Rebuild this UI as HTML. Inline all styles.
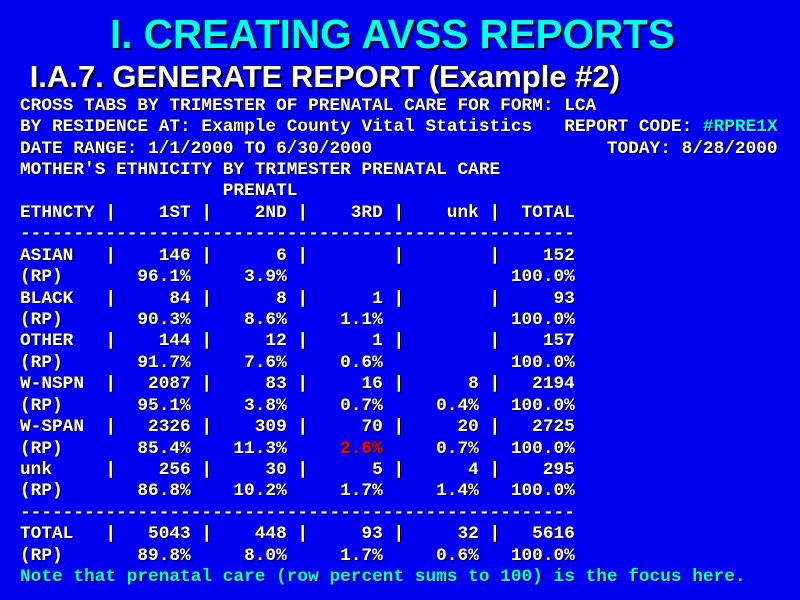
<!DOCTYPE html>
<html>
<head>
<meta charset="utf-8">
<style>
  html, body { margin:0; padding:0; }
  body { width:800px; height:600px; overflow:hidden; background:#0000f0; position:relative; }
  .t1 { position:absolute; left:110px; top:14.1px; font:bold 40.4px/40.4px "Liberation Sans", Arial, sans-serif; color:#00ffff; text-shadow:2px 2px 0 #000; white-space:pre; }
  .t2 { position:absolute; left:29.7px; top:61.1px; font:bold 31px/31px "Liberation Sans", Arial, sans-serif; color:#ffffff; text-shadow:2px 2px 0 #000; white-space:pre; }
  .mono { position:absolute; left:20px; top:95.8px; font-family:"Liberation Mono", "Courier New", monospace; font-weight:bold; font-size:17.8px; color:#fff; text-shadow:1px 1px 0 #000; }
  .mono > div { height:21.43px; line-height:21.43px; white-space:pre; }
  .nm { display:inline-block; width:8ch; }
  .v { display:inline-block; width:7ch; text-align:right; }
  .c { color:#00ffff; }
  .r { color:#ff0000; }
</style>
</head>
<body>
<div class="t1">I. CREATING AVSS REPORTS</div>
<div class="t2">I.A.7. GENERATE REPORT (Example #2)</div>
<div class="mono">
<div>CROSS TABS BY TRIMESTER OF PRENATAL CARE FOR FORM: LCA</div>
<div>BY RESIDENCE AT: Example County Vital Statistics   REPORT CODE: <span class="c">#RPRE1X</span></div>
<div>DATE RANGE: 1/1/2000 TO 6/30/2000                      TODAY: 8/28/2000</div>
<div>MOTHER'S ETHNICITY BY TRIMESTER PRENATAL CARE</div>
<div>                   PRENATL</div>
<div><span class="nm">ETHNCTY</span>|<span class="v">1ST</span> |<span class="v">2ND</span> |<span class="v">3RD</span> |<span class="v">unk</span> |<span class="v">TOTAL</span></div>
<div>----------------------------------------------------</div>
<div><span class="nm">ASIAN</span>|<span class="v">146</span> |<span class="v">6</span> |<span class="v"></span> |<span class="v"></span> |<span class="v">152</span></div>
<div><span class="nm">(RP)</span> <span class="v">96.1%</span>  <span class="v">3.9%</span>  <span class="v"></span>  <span class="v"></span>  <span class="v">100.0%</span></div>
<div><span class="nm">BLACK</span>|<span class="v">84</span> |<span class="v">8</span> |<span class="v">1</span> |<span class="v"></span> |<span class="v">93</span></div>
<div><span class="nm">(RP)</span> <span class="v">90.3%</span>  <span class="v">8.6%</span>  <span class="v">1.1%</span>  <span class="v"></span>  <span class="v">100.0%</span></div>
<div><span class="nm">OTHER</span>|<span class="v">144</span> |<span class="v">12</span> |<span class="v">1</span> |<span class="v"></span> |<span class="v">157</span></div>
<div><span class="nm">(RP)</span> <span class="v">91.7%</span>  <span class="v">7.6%</span>  <span class="v">0.6%</span>  <span class="v"></span>  <span class="v">100.0%</span></div>
<div><span class="nm">W-NSPN</span>|<span class="v">2087</span> |<span class="v">83</span> |<span class="v">16</span> |<span class="v">8</span> |<span class="v">2194</span></div>
<div><span class="nm">(RP)</span> <span class="v">95.1%</span>  <span class="v">3.8%</span>  <span class="v">0.7%</span>  <span class="v">0.4%</span>  <span class="v">100.0%</span></div>
<div><span class="nm">W-SPAN</span>|<span class="v">2326</span> |<span class="v">309</span> |<span class="v">70</span> |<span class="v">20</span> |<span class="v">2725</span></div>
<div><span class="nm">(RP)</span> <span class="v">85.4%</span>  <span class="v">11.3%</span>  <span class="v r">2.6%</span>  <span class="v">0.7%</span>  <span class="v">100.0%</span></div>
<div><span class="nm">unk</span>|<span class="v">256</span> |<span class="v">30</span> |<span class="v">5</span> |<span class="v">4</span> |<span class="v">295</span></div>
<div><span class="nm">(RP)</span> <span class="v">86.8%</span>  <span class="v">10.2%</span>  <span class="v">1.7%</span>  <span class="v">1.4%</span>  <span class="v">100.0%</span></div>
<div>----------------------------------------------------</div>
<div><span class="nm">TOTAL</span>|<span class="v">5043</span> |<span class="v">448</span> |<span class="v">93</span> |<span class="v">32</span> |<span class="v">5616</span></div>
<div><span class="nm">(RP)</span> <span class="v">89.8%</span>  <span class="v">8.0%</span>  <span class="v">1.7%</span>  <span class="v">0.6%</span>  <span class="v">100.0%</span></div>
<div class="c">Note that prenatal care (row percent sums to 100) is the focus here.</div>
</div>
</body>
</html>
